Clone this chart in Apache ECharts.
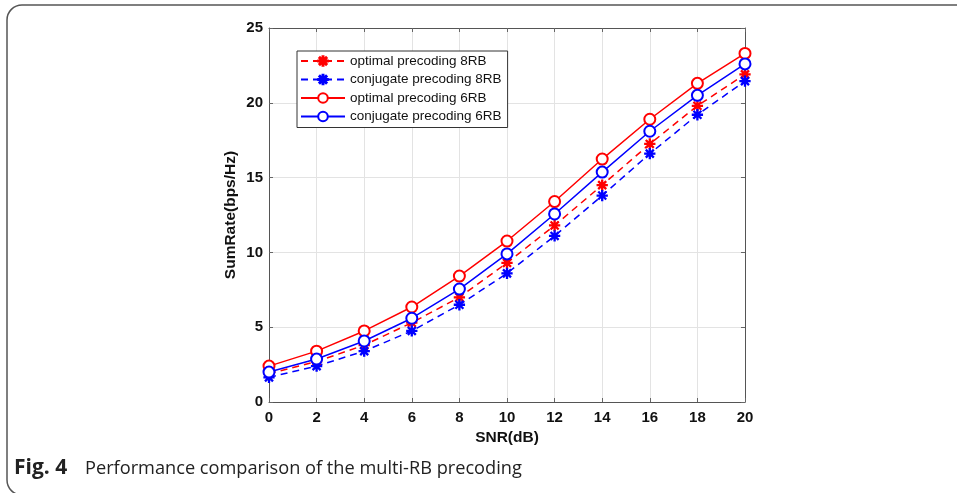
<!DOCTYPE html>
<html>
<head>
<meta charset="utf-8">
<script src="https://cdn.jsdelivr.net/npm/echarts@6/dist/echarts.min.js"></script>
<style>
html,body{margin:0;padding:0;background:#fff;}
#chart{width:957px;height:493px;}
</style>
</head>
<body>
<div id="chart"></div>
<script>
// Data
const snr = [0, 2, 4, 6, 8, 10, 12, 14, 16, 18, 20];
const optimal8RB   = [1.9, 2.7, 3.8, 5.3, 7.0, 9.3, 11.8, 14.5, 17.25, 19.8, 21.9];
const conjugate8RB = [1.65, 2.4, 3.4, 4.75, 6.5, 8.6, 11.1, 13.8, 16.6, 19.2, 21.45];
const optimal6RB   = [2.4, 3.4, 4.75, 6.35, 8.42, 10.76, 13.4, 16.24, 18.9, 21.3, 23.3];
const conjugate6RB = [2.0, 2.87, 4.08, 5.6, 7.55, 9.9, 12.57, 15.37, 18.1, 20.5, 22.6];
const seriesNames = ['optimal precoding 8RB', 'conjugate precoding 8RB', 'optimal precoding 6RB', 'conjugate precoding 6RB'];
const xLabelName = 'SNR(dB)';
const yLabelName = 'SumRate(bps/Hz)';
const captionBold = 'Fig. 4';
const captionText = 'Performance comparison of the multi-RB precoding';

const star = 'path://M9 0L11 0L11 20L9 20Z M0 9L20 9L20 11L0 11Z M2.22 3.64L3.64 2.22L17.78 16.36L16.36 17.78Z M16.36 2.22L17.78 3.64L3.64 17.78L2.22 16.36Z';

function pairs(ys){ return snr.map((x,i)=>[x, ys[i]]); }

const chart = echarts.init(document.getElementById('chart'), null, {renderer:'canvas'});
const axisLine = {show:true, onZero:false, lineStyle:{color:'#555', width:1}};
const tickFont = {color:'#111', fontFamily:'Liberation Sans, Arial, sans-serif', fontWeight:'bold', fontSize:15};
const nameFont = {color:'#111', fontFamily:'Liberation Sans, Arial, sans-serif', fontWeight:'bold', fontSize:15.5};
const tick = {show:true, inside:true, length:4, lineStyle:{color:'#666'}};

function mk(name, data, color, dashed, symbol, size){
  return {
    name, type:'line', data: pairs(data),
    symbol, symbolSize:size,
    showSymbol:true,
    lineStyle:{color, width:1.5, type: dashed ? [7,5] : 'solid'},
    itemStyle:{color, borderColor:color, borderWidth:1.3},
    emphasis:{disabled:true},
    animation:false
  };
}

chart.setOption({
  animation:false,
  backgroundColor:'#fff',
  grid:{left:269, right:212, top:28, bottom:91},
  legend:{
    show:true, orient:'vertical', left:297, top:51,
    data: seriesNames,
    itemWidth:44, itemHeight:12, itemGap:4.5,
    padding:[3,6,4,3],
    backgroundColor:'#fff', borderColor:'#333', borderWidth:1,
    textStyle:{fontFamily:'Liberation Sans, Arial, sans-serif', fontSize:13.5, color:'#111'},
    selectedMode:false
  },
  xAxis:[{
    type:'value', min:0, max:20, interval:2,
    name:xLabelName, nameLocation:'middle', nameGap:28,
    nameTextStyle:nameFont,
    axisLine, axisTick:tick,
    axisLabel:Object.assign({margin:8}, tickFont),
    splitLine:{show:true, lineStyle:{color:'#e3e3e3', width:1}}
  },{
    type:'value', position:'top', min:0, max:20, interval:2,
    axisLine, axisTick:tick,
    axisLabel:{show:false}, splitLine:{show:false}
  }],
  yAxis:[{
    type:'value', min:0, max:25, interval:5,
    name:yLabelName, nameLocation:'middle', nameGap:30, nameRotate:90,
    nameTextStyle:nameFont,
    axisLine, axisTick:tick,
    axisLabel:Object.assign({margin:6}, tickFont),
    splitLine:{show:true, lineStyle:{color:'#e3e3e3', width:1}}
  },{
    type:'value', position:'right', min:0, max:25, interval:5,
    axisLine, axisTick:tick,
    axisLabel:{show:false}, splitLine:{show:false}
  }],
  series:[
    mk(seriesNames[0], optimal8RB, '#ff0000', true, star, 10),
    mk(seriesNames[1], conjugate8RB, '#0000ff', true, star, 10),
    mk(seriesNames[2], optimal6RB, '#ff0000', false, 'emptyCircle', 11),
    mk(seriesNames[3], conjugate6RB, '#0000ff', false, 'emptyCircle', 11)
  ],
  graphic:[
    {type:'rect', silent:true, shape:{x:7, y:5, width:1000, height:490, r:15},
     style:{fill:null, stroke:'#555', lineWidth:1.5}, z:-1},
    {type:'text', left:14, top:458, silent:true,
     style:{text:captionBold, fontFamily:'Open Sans, Noto Sans, sans-serif', fontWeight:'bold', fontSize:21, fill:'#222'}},
    {type:'text', left:85, top:460, silent:true,
     style:{text:captionText, fontFamily:'Open Sans, Noto Sans, sans-serif', fontSize:18.2, fill:'#222'}}
  ]
});
</script>
</body>
</html>
